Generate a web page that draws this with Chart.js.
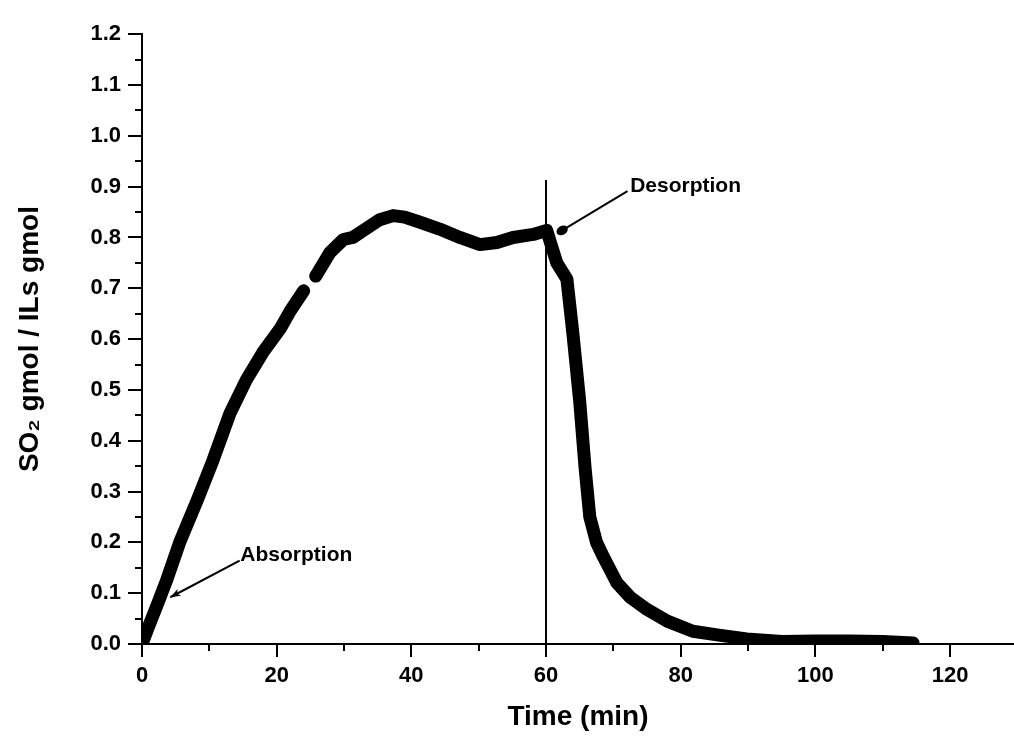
<!DOCTYPE html>
<html>
<head>
<meta charset="utf-8">
<script src="https://cdn.jsdelivr.net/npm/chart.js@4.4.1/dist/chart.umd.min.js"></script>
<style>
  html, body { margin: 0; padding: 0; background: #fff; }
  #wrap { width: 1014px; height: 738px; position: relative; }
</style>
</head>
<body>
<div id="wrap"><canvas id="c" width="1014" height="738"></canvas></div>
<script>
// ---- data ----
const timeMin = [0, 1, 2.2, 3.7, 5.6, 8.2, 10.5, 13.1, 15.5, 18, 20.5, 22, 24.0, 24.9, 25.8, 27.9, 29.9, 31.3, 33, 35.3, 37.3, 39, 41.3, 44.3, 47.2, 50.2, 52.7, 55.1, 58.1, 60.1, 61.6, 63.1, 64, 65, 65.8, 66.5, 67.5, 68.5, 70.5, 72.5, 75, 78, 81.8, 85.4, 89.8, 95, 100, 105, 110, 114.5];
const so2Ratio = [0, 0.035, 0.075, 0.127, 0.2, 0.283, 0.36, 0.455, 0.52, 0.575, 0.62, 0.655, 0.695, null, 0.724, 0.77, 0.796, 0.80, 0.815, 0.835, 0.843, 0.84, 0.83, 0.816, 0.80, 0.786, 0.79, 0.80, 0.806, 0.814, 0.75, 0.718, 0.61, 0.478, 0.347, 0.25, 0.2, 0.172, 0.121, 0.092, 0.068, 0.045, 0.025, 0.018, 0.01, 0.005, 0.006, 0.006, 0.005, 0.002];
const switchTime = [60, 60];
const switchLine = [0, 0.913];
const xTicks = [0, 20, 40, 60, 80, 100, 120];
const xMinorTicks = [10, 30, 50, 70, 90, 110];
const yTicks = [0, 0.1, 0.2, 0.3, 0.4, 0.5, 0.6, 0.7, 0.8, 0.9, 1.0, 1.1, 1.2];
const yMinorTicks = [0.05, 0.15, 0.25, 0.35, 0.45, 0.55, 0.65, 0.75, 0.85, 0.95, 1.05, 1.15];
const annotationTexts = ['Absorption', 'Desorption'];
// annotation anchors in data units: [textX, textY, tailX, tailY, tipX, tipY]
const annotationAnchors = [
  [14.6, 0.175, 14.5, 0.164, 4.2, 0.092],
  [72.5, 0.90, 72.1, 0.891, 62.4, 0.814]
];

const FONT = '"Liberation Sans", Arial, Helvetica, sans-serif';

const curve = timeMin.map((t, i) => ({x: t, y: so2Ratio[i]}));
const vline = switchTime.map((t, i) => ({x: t, y: switchLine[i]}));

const extras = {
  id: 'extras',
  afterDraw(chart) {
    const ctx = chart.ctx;
    const xs = chart.scales.x, ys = chart.scales.y;
    ctx.save();
    ctx.strokeStyle = '#000';
    ctx.lineWidth = 2;
    const x0 = xs.left;
    yTicks.forEach(v => { const p = Math.round(ys.getPixelForValue(v)); ctx.beginPath(); ctx.moveTo(x0 - 14, p); ctx.lineTo(x0, p); ctx.stroke(); });
    yMinorTicks.forEach(v => { const p = Math.round(ys.getPixelForValue(v)); ctx.beginPath(); ctx.moveTo(x0 - 7, p); ctx.lineTo(x0, p); ctx.stroke(); });
    const y0 = ys.bottom;
    xTicks.forEach(v => { const p = Math.round(xs.getPixelForValue(v)); ctx.beginPath(); ctx.moveTo(p, y0); ctx.lineTo(p, y0 + 13); ctx.stroke(); });
    xMinorTicks.forEach(v => { const p = Math.round(xs.getPixelForValue(v)); ctx.beginPath(); ctx.moveTo(p, y0); ctx.lineTo(p, y0 + 7); ctx.stroke(); });

    annotationAnchors.forEach((a, i) => {
      const tx = xs.getPixelForValue(a[0]), ty = ys.getPixelForValue(a[1]);
      const sx = xs.getPixelForValue(a[2]), sy = ys.getPixelForValue(a[3]);
      const ex = xs.getPixelForValue(a[4]), ey = ys.getPixelForValue(a[5]);
      ctx.fillStyle = '#000';
      ctx.font = 'bold 21px ' + FONT;
      ctx.textAlign = 'left';
      ctx.textBaseline = 'middle';
      ctx.fillText(annotationTexts[i], tx, ty);
      ctx.lineWidth = 2;
      ctx.beginPath(); ctx.moveTo(sx, sy); ctx.lineTo(ex, ey); ctx.stroke();
      const ang = Math.atan2(ey - sy, ex - sx);
      if (i === 0) {
        const L = 11, W = 0.35;
        ctx.beginPath();
        ctx.moveTo(ex, ey);
        ctx.lineTo(ex - L * Math.cos(ang - W), ey - L * Math.sin(ang - W));
        ctx.lineTo(ex - L * 0.7 * Math.cos(ang), ey - L * 0.7 * Math.sin(ang));
        ctx.lineTo(ex - L * Math.cos(ang + W), ey - L * Math.sin(ang + W));
        ctx.closePath(); ctx.fill();
      } else {
        ctx.beginPath(); ctx.ellipse(ex, ey, 6, 4.5, ang, 0, Math.PI * 2); ctx.fill();
      }
    });
    ctx.restore();
  }
};

new Chart(document.getElementById('c'), {
  type: 'scatter',
  data: {
    datasets: [
      {
        data: curve,
        showLine: true,
        spanGaps: false,
        borderColor: '#000',
        backgroundColor: '#000',
        borderWidth: 13,
        borderCapStyle: 'round',
        borderJoinStyle: 'round',
        pointRadius: 0,
        tension: 0
      },
      {
        data: vline,
        showLine: true,
        borderColor: '#000',
        borderWidth: 2,
        pointRadius: 0
      }
    ]
  },
  options: {
    responsive: false,
    animation: false,
    devicePixelRatio: 1,
    layout: { padding: { top: 30, right: 0, left: 0, bottom: 0 } },
    plugins: { legend: { display: false }, tooltip: { enabled: false } },
    scales: {
      x: {
        type: 'linear',
        min: 0,
        max: 129.5,
        afterFit(s) { s.height = 94; },
        afterBuildTicks(s) { s.ticks = xTicks.map(v => ({value: v})); },
        grid: { display: true, drawOnChartArea: false, drawTicks: false },
        border: { display: true, color: '#000', width: 2 },
        ticks: {
          color: '#000', padding: 19, maxRotation: 0, autoSkip: false,
          font: { family: FONT, size: 22, weight: 'bold' },
          callback: v => String(v)
        },
        title: {
          display: true, text: 'Time (min)', color: '#000',
          font: { family: FONT, size: 28, weight: 'bold' },
          padding: { top: 0, bottom: 4 }
        }
      },
      y: {
        type: 'linear',
        min: 0,
        max: 1.2,
        afterFit(s) { s.width = 142; },
        afterBuildTicks(s) { s.ticks = yTicks.map(v => ({value: v})); },
        grid: { display: true, drawOnChartArea: false, drawTicks: false },
        border: { display: true, color: '#000', width: 2 },
        ticks: {
          color: '#000', padding: 21, autoSkip: false,
          font: { family: FONT, size: 22, weight: 'bold' },
          callback: v => Number(v).toFixed(1)
        },
        title: {
          display: true, text: 'SO\u2082 gmol / ILs gmol', color: '#000',
          font: { family: FONT, size: 28, weight: 'bold' },
          padding: { top: 13, bottom: 0 }
        }
      }
    }
  },
  plugins: [extras]
});
</script>
</body>
</html>
